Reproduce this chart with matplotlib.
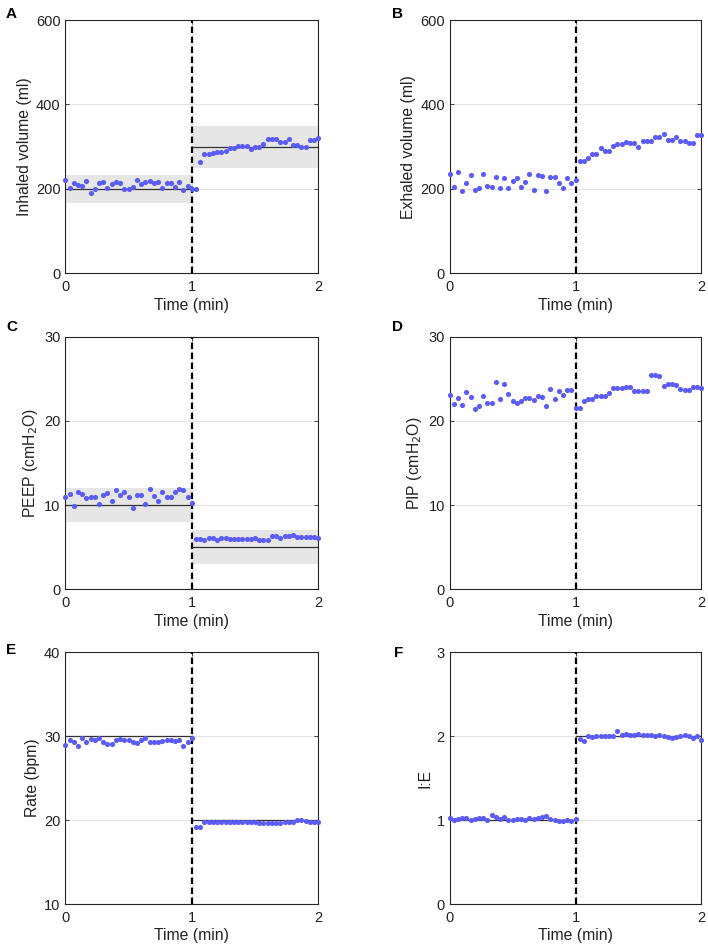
import numpy as np
import matplotlib
matplotlib.use("Agg")
import matplotlib.pyplot as plt

plt.rcParams['font.family'] = ['Liberation Sans', 'DejaVu Sans']

# ---------------- data ----------------
n_samples = 61                      # one breath sample every 2 s over 2 min
time_min = np.arange(n_samples) / 30.0

inhaled_ml = [220, 202, 213, 209, 206, 219, 191, 200, 214, 217, 202, 211, 216, 213, 200, 200,
              204, 220, 211, 216, 219, 214, 216, 202, 214, 214, 205, 216, 197, 207, 200,
              200, 263, 283, 283, 285, 288, 288, 289, 296, 296, 301, 301, 301, 295, 300,
              300, 307, 317, 317, 317, 311, 311, 317, 304, 304, 300, 300, 315, 316, 320]

exhaled_ml = [236, 204, 240, 194, 214, 234, 197, 202, 236, 206, 204, 229, 201, 226, 201, 218,
              226, 204, 217, 236, 198, 232, 231, 194, 229, 229, 213, 202, 225, 214, 222,
              265, 265, 274, 283, 283, 296, 290, 290, 302, 306, 306, 311, 309, 309, 300,
              313, 313, 313, 322, 322, 329, 316, 316, 324, 313, 313, 309, 309, 327, 327]

peep = [10.99, 11.35, 9.84, 11.50, 11.27, 10.79, 10.91, 10.95, 10.08, 11.15, 11.47, 10.44,
        11.74, 11.15, 11.58, 10.91, 9.64, 11.15, 11.23, 10.12, 11.94, 11.11, 10.51, 11.50,
        10.91, 10.91, 11.50, 11.86, 11.78, 10.95, 10.28,
        6.00, 6.00, 5.80, 6.10, 6.10, 5.80, 6.15, 6.15, 5.95, 5.95, 5.95, 5.95, 5.95, 5.95,
        6.08, 5.80, 5.80, 5.90, 6.36, 6.36, 6.08, 6.32, 6.32, 6.44, 6.20, 6.20, 6.20, 6.20,
        6.20, 6.10]

pip = [23.09, 22.02, 22.73, 21.86, 23.48, 22.89, 21.47, 21.82, 22.97, 22.14, 22.14, 24.63,
       22.65, 24.44, 23.17, 22.34, 22.18, 22.38, 22.69, 22.77, 22.46, 23.00, 22.80, 21.78,
       23.80, 22.57, 23.56, 23.09, 23.64, 23.64, 21.58,
       21.58, 22.38, 22.57, 22.57, 23.00, 22.97, 22.97, 23.29, 23.88, 23.88, 23.88, 24.00,
       24.00, 23.56, 23.56, 23.56, 23.60, 25.40, 25.50, 25.30, 24.20, 24.40, 24.40, 24.30,
       23.80, 23.70, 23.70, 24.00, 24.00, 23.90]

rate_bpm = [28.97, 29.53, 29.25, 28.78, 29.84, 29.29, 29.68, 29.57, 29.80, 29.29, 29.05,
            29.05, 29.49, 29.64, 29.49, 29.49, 29.25, 29.21, 29.49, 29.80, 29.25, 29.25,
            29.25, 29.41, 29.57, 29.57, 29.41, 29.57, 28.82, 29.25, 29.80,
            19.20, 19.20, 19.80, 19.80, 19.80, 19.80, 19.80, 19.80, 19.80, 19.80, 19.80,
            19.80, 19.80, 19.80, 19.80, 19.70, 19.60, 19.60, 19.60, 19.60, 19.70, 19.75,
            19.75, 19.75, 20.00, 20.00, 19.90, 19.80, 19.80, 19.80]

ie_ratio = [1.020, 1.000, 1.012, 1.020, 1.020, 1.000, 1.012, 1.020, 1.020, 1.000, 1.056,
            1.040, 1.016, 1.036, 0.996, 1.000, 1.016, 1.012, 1.000, 1.030, 1.012, 1.028,
            1.040, 1.044, 1.012, 1.000, 0.992, 0.992, 1.000, 0.992, 1.008,
            1.97, 1.94, 2.00, 1.99, 2.00, 2.00, 2.00, 2.00, 2.00, 2.06, 2.02, 2.03, 2.02,
            2.02, 2.03, 2.01, 2.01, 2.02, 2.00, 2.01, 2.00, 1.99, 1.98, 1.99, 2.00, 2.01,
            2.00, 1.98, 2.00, 1.95]

# set-points (first minute, second minute) and tolerance bands
inhaled_target = [200, 300]
inhaled_band = [(167, 233), (250, 350)]
peep_target = [10, 5]
peep_band = [(8, 12), (3, 7)]
rate_target = [30, 20]
ie_target = [1, 2]

x_ticks = [0, 1, 2]
switch_time = 1.0

panels = [
    dict(letter='A', y=inhaled_ml, label='Inhaled volume (ml)', ylim=(0, 600),
         yticks=[0, 200, 400, 600], target=inhaled_target, band=inhaled_band),
    dict(letter='B', y=exhaled_ml, label='Exhaled volume (ml)', ylim=(0, 600),
         yticks=[0, 200, 400, 600], target=None, band=None),
    dict(letter='C', y=peep, label='PEEP (cmH$_2$O)', ylim=(0, 30),
         yticks=[0, 10, 20, 30], target=peep_target, band=peep_band),
    dict(letter='D', y=pip, label='PIP (cmH$_2$O)', ylim=(0, 30),
         yticks=[0, 10, 20, 30], target=None, band=None),
    dict(letter='E', y=rate_bpm, label='Rate (bpm)', ylim=(10, 40),
         yticks=[10, 20, 30, 40], target=rate_target, band=None),
    dict(letter='F', y=ie_ratio, label='I:E', ylim=(0, 3),
         yticks=[0, 1, 2, 3], target=ie_target, band=None),
]

# ---------------- figure ----------------
W, H = 708, 950
fig = plt.figure(figsize=(W / 100, H / 100), dpi=100)

cols = [(65.3, 253.0), (449.7, 251.6)]
rows = [(20.0, 273.3), (336.7, 589.3), (652.3, 904.0)]
letter_pos = [(6, 7), (392, 7), (6, 320), (392, 320), (6, 643), (394, 646)]

dot_color = '#5b5bf6'
spine_color = '#262626'

for i, p in enumerate(panels):
    r, c = divmod(i, 2)
    x0, w = cols[c]
    top, bot = rows[r]
    ax = fig.add_axes([x0 / W, 1 - bot / H, w / W, (bot - top) / H])

    ax.set_xlim(0, 2)
    ax.set_ylim(*p['ylim'])
    ax.set_xticks(x_ticks)
    ax.set_yticks(p['yticks'])
    ax.grid(True, color='#e4e4e4', linewidth=0.8, zorder=0)
    ax.set_axisbelow(True)

    halves = [(0, switch_time), (switch_time, 2)]
    if p['band'] is not None:
        for (a, b), (lo, hi) in zip(halves, p['band']):
            ax.fill_between([a, b], [lo, lo], [hi, hi], color='#e6e6e6',
                            linewidth=0, zorder=1)
    if p['target'] is not None:
        for (a, b), tv in zip(halves, p['target']):
            ax.plot([a, b], [tv, tv], color='#333333', linewidth=0.9, zorder=2)

    ax.axvline(switch_time, color='black', linewidth=1.6, dashes=(2.9, 1.6), zorder=3)
    ax.plot(time_min, p['y'], linestyle='none', marker='o', markersize=3.7,
            markeredgewidth=0, color=dot_color, zorder=4, clip_on=False)

    for s in ax.spines.values():
        s.set_color(spine_color)
        s.set_linewidth(0.8)
    ax.tick_params(direction='in', top=True, right=True, length=3, width=0.6,
                   colors=spine_color, labelsize=10.5, labelcolor='#222222')
    ax.tick_params(axis='x', pad=5)
    ax.tick_params(axis='y', pad=3.5)

    ax.set_xlabel('Time (min)', fontsize=11.3, labelpad=2.5, color='#222222')
    ax.set_ylabel(p['label'], fontsize=11.3, labelpad=3, color='#222222')

    lx, ly = letter_pos[i]
    fig.text(lx / W, 1 - ly / H, p['letter'], fontsize=11, fontweight='bold',
             ha='left', va='top', color='black')

fig.savefig('out.png', dpi=100)
